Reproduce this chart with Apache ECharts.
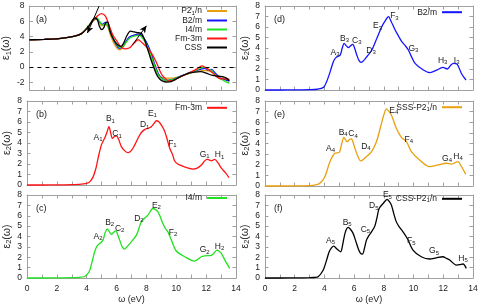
<!DOCTYPE html>
<html><head><meta charset="utf-8">
<script src="https://cdn.jsdelivr.net/npm/echarts@6/dist/echarts.min.js"></script>
<style>html,body{margin:0;padding:0;background:#fff}#c{width:486px;height:307px}</style>
</head><body><div id="c"></div>
<script>
// ---------- data: panel (a) real part eps1 ----------
const e1P21n = [[0,3.58],[1,3.63],[2,3.72],[3,4.02],[3.5,4.35],[4.0,5.3],[4.3,6.0],[4.5,6.3],[4.7,6.0],[4.9,5.4],[5.1,5.6],[5.3,5.3],[5.5,4.1],[5.75,3.0],[6.0,2.35],[6.15,2.3],[6.4,2.75],[6.75,3.8],[7.1,4.2],[7.4,4.3],[7.7,3.8],[7.95,2.8],[8.2,1.5],[8.45,0.0],[8.7,-1.0],[8.95,-1.35],[9.3,-1.45],[9.7,-1.45],[10.1,-1.3],[10.5,-1.05],[10.9,-0.8],[11.3,-0.6],[11.7,-0.45],[12.0,-0.45],[12.3,-0.6],[12.6,-0.9],[12.9,-1.2],[13.2,-1.4],[13.55,-1.6]];
const e1B2m = [[0,3.58],[1,3.63],[2,3.72],[3,4.02],[3.5,4.35],[4.0,5.35],[4.3,6.1],[4.55,6.35],[4.75,5.9],[4.95,5.6],[5.15,5.85],[5.3,5.55],[5.5,4.5],[5.75,3.4],[6.0,2.6],[6.15,2.45],[6.4,2.9],[6.75,3.9],[7.1,4.2],[7.45,4.35],[7.75,3.8],[8.0,3.0],[8.25,1.8],[8.5,0.3],[8.75,-0.9],[9.0,-1.5],[9.3,-1.75],[9.7,-1.6],[10.1,-1.3],[10.5,-1.0],[10.9,-0.7],[11.3,-0.45],[11.6,-0.3],[11.9,-0.15],[12.1,-0.4],[12.35,-0.3],[12.6,-0.8],[12.9,-1.4],[13.2,-1.6],[13.55,-1.85]];
const e1I4m = [[0,3.58],[1,3.63],[2,3.72],[3,4.02],[3.5,4.35],[4.0,5.4],[4.3,6.1],[4.55,6.5],[4.75,6.0],[4.95,5.5],[5.15,5.7],[5.35,5.3],[5.55,4.3],[5.8,3.3],[6.05,2.65],[6.2,2.55],[6.45,3.0],[6.8,3.8],[7.1,4.05],[7.45,4.15],[7.7,3.7],[7.95,2.9],[8.2,1.7],[8.45,0.35],[8.7,-0.9],[8.95,-1.5],[9.3,-1.75],[9.7,-1.65],[10.1,-1.35],[10.5,-1.05],[10.9,-0.75],[11.3,-0.4],[11.6,-0.15],[11.85,0.0],[12.1,-0.3],[12.3,-0.4],[12.6,-1.0],[12.9,-1.5],[13.2,-1.8],[13.55,-2.1]];
const e1Fm3m = [[0,3.58],[1,3.63],[2,3.72],[3,4.02],[3.5,4.35],[4.0,5.3],[4.3,6.1],[4.55,6.6],[4.87,7.0],[5.14,6.7],[5.43,5.3],[5.65,4.2],[5.94,3.36],[6.16,2.72],[6.43,2.38],[6.76,2.5],[7.1,3.15],[7.37,3.58],[7.66,3.15],[8.0,2.5],[8.33,1.64],[8.67,0.34],[8.9,-0.74],[9.1,-1.3],[9.45,-1.8],[9.8,-1.7],[10.1,-1.4],[10.5,-1.05],[10.9,-0.7],[11.3,-0.3],[11.7,0.15],[11.95,-0.1],[12.2,-0.4],[12.5,-0.9],[12.75,-1.35],[13.0,-1.55],[13.3,-1.55],[13.55,-1.6]];
const e1CSS = [[0,3.58],[1,3.63],[2,3.72],[3,4.02],[3.5,4.35],[4.0,5.3],[4.3,6.2],[4.45,6.45],[4.6,6.2],[4.75,5.3],[4.9,4.9],[5.05,5.2],[5.2,5.9],[5.3,5.9],[5.45,4.8],[5.6,4.0],[5.8,3.3],[6.0,2.9],[6.2,2.72],[6.4,3.2],[6.6,4.1],[6.85,4.7],[7.1,4.6],[7.4,4.5],[7.6,4.4],[7.8,3.6],[8.0,2.4],[8.2,1.2],[8.4,0.1],[8.6,-0.9],[8.8,-1.5],[9.0,-1.8],[9.3,-1.95],[9.6,-1.9],[10.0,-1.5],[10.4,-1.1],[10.8,-0.8],[11.2,-0.65],[11.6,-0.6],[12.0,-0.8],[12.4,-1.1],[12.8,-1.2],[13.1,-1.25],[13.35,-1.45],[13.55,-1.8]];
const arrowLines = [[[4.72,7.99],[3.93,4.45]],[[6.99,2.94],[7.93,5.4]]];

// ---------- data: imaginary part eps2 ----------
const e2Fm3m = [[0,0],[1,0],[2,0.01],[3,0.03],[3.5,0.05],[4.0,0.15],[4.2,0.3],[4.42,0.75],[4.6,1.5],[4.76,2.54],[4.98,3.8],[5.2,4.45],[5.35,5.0],[5.49,5.55],[5.6,5.0],[5.72,4.45],[5.85,4.6],[5.99,4.67],[6.15,4.3],[6.32,3.65],[6.55,3.25],[6.77,3.08],[7.0,3.3],[7.21,3.8],[7.45,4.5],[7.66,5.0],[7.9,5.3],[8.1,5.4],[8.33,5.55],[8.5,5.85],[8.67,6.12],[8.85,6.0],[9.0,5.7],[9.2,5.2],[9.34,4.6],[9.56,3.5],[9.75,2.9],[9.89,2.28],[10.1,2.0],[10.34,1.84],[10.7,1.65],[11.12,1.52],[11.4,1.6],[11.68,1.9],[11.9,2.3],[12.06,2.45],[12.2,2.4],[12.35,2.3],[12.57,2.45],[12.8,2.1],[13.02,1.6],[13.3,1.15],[13.53,0.7]];
const e2I4m = [[0,0],[1,0],[2,0.01],[3,0.03],[3.5,0.07],[3.86,0.15],[4.16,0.6],[4.35,1.5],[4.53,2.53],[4.7,3.1],[4.87,3.33],[5.09,3.65],[5.22,4.3],[5.38,4.74],[5.5,4.5],[5.65,4.2],[5.8,4.4],[5.94,4.55],[6.05,4.3],[6.21,3.65],[6.38,3.0],[6.54,2.79],[6.75,3.1],[6.99,3.49],[7.33,4.13],[7.5,4.8],[7.66,5.41],[8.1,6.06],[8.44,6.7],[8.77,6.37],[9.1,5.26],[9.3,4.7],[9.44,4.45],[9.55,4.1],[9.67,3.65],[10.0,2.6],[10.56,2.05],[11.23,1.63],[11.68,2.05],[12.12,2.15],[12.3,2.15],[12.46,2.3],[12.73,2.69],[12.85,2.6],[13.02,2.37],[13.3,1.6],[13.58,0.93]];
const e2B2m = [[0,0],[1,0],[2,0.01],[3,0.03],[3.5,0.07],[3.94,0.25],[4.15,0.8],[4.39,1.75],[4.6,2.7],[4.79,3.11],[5.06,3.33],[5.2,4.0],[5.33,4.44],[5.48,4.2],[5.62,4.03],[5.75,4.2],[5.91,4.35],[6.05,3.9],[6.18,3.33],[6.33,2.8],[6.47,2.63],[6.85,3.17],[7.19,3.81],[7.53,4.92],[7.86,6.03],[8.1,6.6],[8.31,6.98],[8.5,6.5],[8.76,5.71],[9.0,5.1],[9.21,4.6],[9.45,4.2],[9.65,3.81],[9.85,3.2],[10.1,2.54],[10.66,1.9],[11.11,1.65],[11.56,1.9],[11.96,2.16],[12.27,2.0],[12.5,2.35],[12.68,2.54],[12.94,2.44],[13.24,1.52],[13.53,0.95]];
const e2SSS = [[0,0],[1,0],[2,0.01],[3,0.03],[3.4,0.1],[3.69,0.25],[4.03,0.88],[4.37,2.29],[4.7,3.08],[5.0,3.17],[5.15,3.9],[5.31,4.58],[5.42,4.35],[5.53,4.17],[5.67,4.35],[5.82,4.43],[5.93,4.1],[6.05,3.55],[6.25,2.8],[6.45,2.36],[6.83,2.77],[7.17,3.24],[7.5,4.17],[7.84,5.9],[8.0,6.7],[8.17,7.25],[8.3,7.1],[8.51,6.68],[8.84,5.43],[9.18,4.58],[9.52,4.17],[9.85,3.24],[10.41,2.45],[11.08,1.82],[11.64,1.98],[12.2,2.14],[12.54,2.05],[12.8,2.2],[12.99,2.29],[13.2,1.9],[13.51,1.1]];
const e2CSS = [[0,0],[1,0],[2,0.01],[3,0.03],[3.3,0.05],[3.58,0.12],[3.92,0.77],[4.12,1.6],[4.32,2.53],[4.5,2.95],[4.63,3.08],[4.8,2.85],[4.93,2.69],[5.1,2.53],[5.2,3.0],[5.33,3.97],[5.45,4.6],[5.6,4.87],[5.75,4.7],[5.93,4.3],[6.1,3.6],[6.27,2.86],[6.42,2.4],[6.56,2.31],[6.7,2.9],[6.83,3.65],[7.0,4.1],[7.17,4.45],[7.39,5.0],[7.55,5.9],[7.68,6.7],[7.95,7.18],[8.22,7.57],[8.35,7.4],[8.51,7.02],[8.65,6.3],[8.84,5.41],[9.05,4.9],[9.29,4.45],[9.58,3.81],[9.96,2.69],[10.52,2.05],[11.08,1.83],[11.53,1.95],[11.98,2.05],[12.2,1.9],[12.43,1.73],[12.88,1.25],[13.1,1.28],[13.33,1.35],[13.55,0.93]];

// ---------- peak labels: [letter, index, x, y] ----------
const labB = [['A','1',4.76,4.54],['B','1',5.59,6.29],['C','1',6.03,4.86],['D','1',7.88,5.71],['E','1',8.4,6.83],['F','1',9.74,3.97],['G','1',11.9,2.92],['H','1',12.9,2.86]];
const labC = [['A','2',4.76,3.97],['B','2',5.54,5.35],['C','2',6.21,4.78],['D','2',7.5,5.74],['E','2',8.67,7.02],['F','2',9.78,4.36],['G','2',11.9,2.69],['H','2',12.9,3.01]];
const labD = [['A','3',4.72,3.55],['B','3',5.35,4.92],['C','3',6.18,4.7],['D','3',7.14,3.74],['E','3',7.57,6.1],['F','3',8.71,7.05],['G','3',9.99,3.97],['H','3',11.96,2.79],['I','3',12.9,2.79]];
const labE = [['A','4',4.41,3.56],['B','4',5.26,5.03],['C','4',5.93,4.88],['D','4',6.79,3.71],['E','4',8.67,7.1],['F','4',9.68,4.4],['G','4',12.25,2.61],['H','4',12.99,2.76]];
const labF = [['A','5',4.41,3.59],['B','5',5.53,5.35],['C','5',6.76,4.68],['D','5',7.32,6.95],['E','5',8.24,7.99],['F','5',9.85,3.56],['G','5',11.38,2.6],['H','5',13.33,1.89]];

const xTicks = [0,2,4,6,8,10,12,14];
const yTicksA = [-2,0,2,4,6,8];
const panelNames = ['(a)','(b)','(c)','(d)','(e)','(f)'];

// ---------- styling ----------
const FONT = 'Liberation Sans';
const TXT = '#1a1a1a';
const FRAME = '#a0a0a0';
const C = {orange:'#e8a010', blue:'#1414ff', green:'#22e022', red:'#ff1414', black:'#000000'};
const rich = {
  m:{fontSize:8.5, fontFamily:FONT, color:TXT},
  s:{fontSize:6, fontFamily:FONT, color:TXT, padding:[4,0,0,0]},
  M:{fontSize:10.5, fontFamily:FONT, color:TXT},
  S:{fontSize:7.5, fontFamily:FONT, color:TXT, padding:[5,0,0,0]}
};
function subName(n){ // 'P2_1/n' -> rich
  const i = n.indexOf('_');
  if(i<0) return '{m|'+n+'}';
  return '{m|'+n.slice(0,i)+'}{s|'+n[i+1]+'}{m|'+n.slice(i+2)+'}';
}

const grids = [
  {left:27, top:6, width:209, height:84},
  {left:27, top:101, width:209, height:84},
  {left:27, top:195, width:209, height:83},
  {left:265, top:6, width:208, height:84},
  {left:265, top:101, width:208, height:85},
  {left:265, top:195, width:208, height:83}
];
const xAxis = [], yAxis = [];
grids.forEach((g,i)=>{
  const bottom = (i===2||i===5);
  const common = {type:'value', gridIndex:i, min:0, max:14, interval:1, splitLine:{show:false},
    axisLine:{onZero:false, lineStyle:{color:FRAME, width:1}},
    axisTick:{inside:true, length:3.5, lineStyle:{color:FRAME}}};
  xAxis.push(Object.assign({}, common, {position:'bottom',
    axisLabel:{show:bottom, customValues:xTicks, color:TXT, fontSize:8.5, fontFamily:FONT, margin:6},
    name: bottom ? 'ω (eV)' : '', nameLocation:'middle', nameGap:17,
    nameTextStyle:{color:TXT, fontSize:9, fontFamily:FONT}}));
  xAxis.push(Object.assign({}, common, {position:'top', axisLabel:{show:false}}));
  const isA = i===0;
  const yc = {type:'value', gridIndex:i, min:isA?-3:0, max:8, interval:1, splitLine:{show:false},
    axisLine:{onZero:false, lineStyle:{color:FRAME, width:1}},
    axisTick:{inside:true, length:3.5, lineStyle:{color:FRAME}}};
  if(isA){ yc.axisTick.customValues = yTicksA; }
  const nm = isA ? '{M|ε}{S|1}{M|(ω)}' : '{M|ε}{S|2}{M|(ω)}';
  yAxis.push(Object.assign({}, yc, {position:'left',
    axisLabel:Object.assign({color:TXT, fontSize:8.5, fontFamily:FONT, margin:5}, isA?{customValues:yTicksA}:{}),
    name:nm, nameLocation:'middle', nameGap: i<3 ? 12 : 10, nameRotate:90,
    nameTextStyle:{rich:rich}}));
  yAxis.push(Object.assign({}, yc, {position:'right', axisLabel:{show:false}}));
});

function lineSeries(name, data, gi, color, extra){
  return Object.assign({type:'line', name:name, data:data, xAxisIndex:2*gi, yAxisIndex:2*gi,
    showSymbol:false, symbol:'none', smooth:0.3, clip:false,
    lineStyle:{color:color, width:1.3}, itemStyle:{color:color}}, extra||{});
}
function peakMarks(labs){
  return {markPoint:{symbol:'circle', symbolSize:0, silent:true,
    label:{show:true, position:'inside', rich:rich},
    data:labs.map(l=>({coord:[l[2],l[3]], value:0,
      label:{formatter:'{m|'+l[0]+'}{s|'+l[1]+'}'}}))}};
}

const series = [
  lineSeries('P2_1/n', e1P21n, 0, C.orange, {markLine:{silent:true, symbol:'none', label:{show:false},
    lineStyle:{color:'#000', type:[4,4], width:1}, data:[{yAxis:0}]}}),
  lineSeries('B2/m', e1B2m, 0, C.blue),
  lineSeries('I4/m', e1I4m, 0, C.green),
  lineSeries('Fm-3m', e1Fm3m, 0, C.red),
  lineSeries('CSS', e1CSS, 0, C.black, {markLine:{silent:true, symbol:['none','arrow'], symbolSize:[5,7],
    label:{show:false}, lineStyle:{color:'#000', type:'solid', width:1},
    data:arrowLines.map(a=>[{coord:a[0]},{coord:a[1]}])}}),
  lineSeries('Fm-3m', e2Fm3m, 1, C.red, peakMarks(labB)),
  lineSeries('I4/m', e2I4m, 2, C.green, peakMarks(labC)),
  lineSeries('B2/m', e2B2m, 3, C.blue, peakMarks(labD)),
  lineSeries('SSS-P2_1/n', e2SSS, 4, C.orange, peakMarks(labE)),
  lineSeries('CSS-P2_1/n', e2CSS, 5, C.black, peakMarks(labF))
];

function legend(names, right, top){
  return {data:names.map(n=>({name:n, icon:'rect'})), orient:'vertical', right:right, top:top, align:'right', padding:0,
    itemWidth:20, itemHeight:2, itemGap:0, selectedMode:false,
    formatter:subName, textStyle:{fontSize:8.5, lineHeight:8, height:8, color:TXT, fontFamily:FONT, rich:rich}};
}
const legends = [
  legend(['P2_1/n','B2/m','I4/m','Fm-3m','CSS'], 259, 6.5),
  legend(['Fm-3m'], 259, 103.3),
  legend(['I4/m'], 259, 193.5),
  legend(['B2/m'], 24, 7.7),
  legend(['SSS-P2_1/n'], 24, 102.7),
  legend(['CSS-P2_1/n'], 24, 194.3)
];

const graphic = panelNames.map((t,i)=>({type:'text', left: grids[i].left + 9, top: grids[i].top + 9,
  style:{text:t, fill:TXT, font:'9px "Liberation Sans"'}}));

const chart = echarts.init(document.getElementById('c'));
chart.setOption({animation:false, backgroundColor:'#fff',
  textStyle:{fontFamily:FONT},
  grid:grids, xAxis:xAxis, yAxis:yAxis, series:series, legend:legends, graphic:graphic});
</script></body></html>
